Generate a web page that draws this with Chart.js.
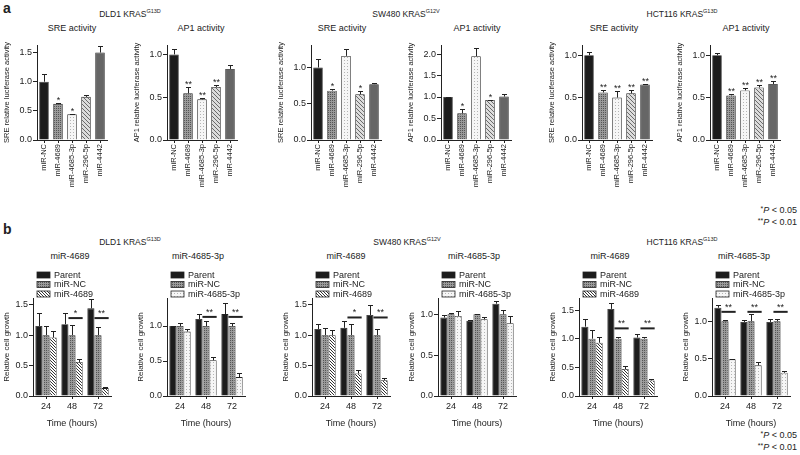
<!DOCTYPE html>
<html lang="en">
<head>
<meta charset="UTF-8">
<title>KRAS reporter activity and cell growth</title>
<script src="https://cdn.jsdelivr.net/npm/chart.js"></script>
<style>
  body { margin: 0; width: 800px; height: 455px; position: relative; background: #fff;
         font-family: 'Liberation Sans', Arial, sans-serif; color: #222; overflow: hidden; }
  .box { position: absolute; }
  .lbl { position: absolute; white-space: nowrap; transform: translate(-50%, -50%); font-size: 9px; }
  .grp { font-size: 8.5px; }
  .grp sup { font-size: 5.5px; vertical-align: 4px; }
  .panel { position: absolute; font-weight: bold; font-size: 14px; transform: translateY(-50%); }
  .pval { position: absolute; right: 3px; font-size: 9px; text-align: right; transform: translateY(-50%); white-space: nowrap; }
  .pval span { font-size: 7px; vertical-align: 2px; }
</style>
</head>
<body>
<div class="panel" style="left:3px;top:8px">a</div>
<div class="lbl grp" style="left:130px;top:13px">DLD1 KRAS<sup>G13D</sup></div>
<div class="lbl grp" style="left:406px;top:13px">SW480 KRAS<sup>G12V</sup></div>
<div class="lbl grp" style="left:682px;top:13px">HCT116 KRAS<sup>G13D</sup></div>
<div class="lbl" style="left:72px;top:28px">SRE activity</div>
<div class="lbl" style="left:201px;top:28px">AP1 activity</div>
<div class="lbl" style="left:342px;top:28px">SRE activity</div>
<div class="lbl" style="left:477px;top:28px">AP1 activity</div>
<div class="lbl" style="left:614px;top:28px">SRE activity</div>
<div class="lbl" style="left:746px;top:28px">AP1 activity</div>
<div class="pval" style="top:210px"><span>*</span><i>P</i> &lt; 0.05</div>
<div class="pval" style="top:222px"><span>**</span><i>P</i> &lt; 0.01</div>

<div class="panel" style="left:3px;top:229px">b</div>
<div class="lbl grp" style="left:130px;top:241px">DLD1 KRAS<sup>G13D</sup></div>
<div class="lbl grp" style="left:407px;top:241px">SW480 KRAS<sup>G12V</sup></div>
<div class="lbl grp" style="left:682px;top:241px">HCT116 KRAS<sup>G13D</sup></div>
<div class="lbl" style="left:70px;top:256px">miR-4689</div>
<div class="lbl" style="left:198px;top:256px">miR-4685-3p</div>
<div class="lbl" style="left:346px;top:256px">miR-4689</div>
<div class="lbl" style="left:474px;top:256px">miR-4685-3p</div>
<div class="lbl" style="left:610px;top:256px">miR-4689</div>
<div class="lbl" style="left:744px;top:256px">miR-4685-3p</div>
<div class="pval" style="top:435px"><span>*</span><i>P</i> &lt; 0.05</div>
<div class="pval" style="top:447px"><span>**</span><i>P</i> &lt; 0.01</div>

<script>
// ---- panel a: relative luciferase activity (mean, error) ----
const miRNAs = ['miR-NC', 'miR-4689', 'miR-4685-3p', 'miR-296-5p', 'miR-4442'];

const dld1SRE = [1.0, 0.62, 0.44, 0.74, 1.50];
const dld1SREErr = [0.14, 0.01, 0.01, 0.04, 0.11];
const dld1SREStars = ['', '*', '*', '', ''];
const dld1AP1 = [1.0, 0.545, 0.475, 0.62, 0.83];
const dld1AP1Err = [0.06, 0.07, 0.02, 0.02, 0.05];
const dld1AP1Stars = ['', '**', '**', '**', ''];

const sw480SRE = [1.0, 0.68, 1.16, 0.63, 0.77];
const sw480SREErr = [0.12, 0.02, 0.09, 0.04, 0.01];
const sw480SREStars = ['', '*', '', '*', ''];
const sw480AP1 = [1.0, 0.62, 1.95, 0.93, 1.01];
const sw480AP1Err = [0.01, 0.10, 0.20, 0.01, 0.05];
const sw480AP1Stars = ['', '*', '', '*', ''];

const hctSRE = [1.0, 0.56, 0.50, 0.55, 0.655];
const hctSREErr = [0.04, 0.03, 0.08, 0.04, 0.01];
const hctSREStars = ['', '**', '**', '**', '**'];
const hctAP1 = [1.0, 0.525, 0.585, 0.62, 0.66];
const hctAP1Err = [0.03, 0.02, 0.025, 0.03, 0.03];
const hctAP1Stars = ['', '**', '**', '**', '**'];

// ---- panel b: relative cell growth ----
const hours = ['24', '48', '72'];
const seriesNames = ['Parent', 'miR-NC'];

const dld1G4689Parent = [1.15, 1.18, 1.44];
const dld1G4689ParentErr = [0.22, 0.18, 0.15];
const dld1G4689NC = [1.0, 1.0, 1.0];
const dld1G4689NCErr = [0.15, 0.16, 0.13];
const dld1G4689Mir = [0.96, 0.56, 0.13];
const dld1G4689MirErr = [0.10, 0.04, 0.01];
const dld1G4689Sig = ['', '*', '**'];

const dld1G4685Parent = [1.0, 1.10, 1.17];
const dld1G4685ParentErr = [0.005, 0.07, 0.16];
const dld1G4685NC = [1.0, 1.0, 1.0];
const dld1G4685NCErr = [0.04, 0.07, 0.04];
const dld1G4685Mir = [0.92, 0.51, 0.27];
const dld1G4685MirErr = [0.04, 0.05, 0.06];
const dld1G4685Sig = ['', '**', '**'];

const sw480G4689Parent = [1.10, 1.12, 1.33];
const sw480G4689ParentErr = [0.09, 0.12, 0.16];
const sw480G4689NC = [1.0, 1.0, 1.0];
const sw480G4689NCErr = [0.12, 0.19, 0.10];
const sw480G4689Mir = [1.0, 0.37, 0.26];
const sw480G4689MirErr = [0.08, 0.05, 0.04];
const sw480G4689Sig = ['', '*', '**'];

const sw480G4685Parent = [0.96, 0.92, 1.13];
const sw480G4685ParentErr = [0.03, 0.005, 0.03];
const sw480G4685NC = [1.0, 1.0, 1.0];
const sw480G4685NCErr = [0.02, 0.01, 0.05];
const sw480G4685Mir = [0.98, 0.94, 0.89];
const sw480G4685MirErr = [0.06, 0.03, 0.09];
const sw480G4685Sig = ['', '', ''];

const hctG4689Parent = [1.21, 1.52, 1.02];
const hctG4689ParentErr = [0.14, 0.11, 0.07];
const hctG4689NC = [1.0, 1.0, 1.0];
const hctG4689NCErr = [0.16, 0.03, 0.03];
const hctG4689Mir = [0.93, 0.47, 0.27];
const hctG4689MirErr = [0.10, 0.05, 0.02];
const hctG4689Sig = ['', '**', '**'];

const hctG4685Parent = [1.18, 0.99, 0.99];
const hctG4685ParentErr = [0.04, 0.03, 0.04];
const hctG4685NC = [1.0, 1.0, 1.0];
const hctG4685NCErr = [0.01, 0.10, 0.03];
const hctG4685Mir = [0.49, 0.41, 0.31];
const hctG4685MirErr = [0.01, 0.05, 0.02];
const hctG4685Sig = ['**', '**', '**'];

const ticksTo1 = [0, 0.5, 1.0];
const ticksTo15 = [0, 0.5, 1.0, 1.5];
const ticksTo2 = [0, 0.5, 1.0, 1.5, 2.0];

const INK = '#222';

// small bitmap fills used for the hatched bars
function pattern(size, base, ink, dots) {
  const c = document.createElement('canvas');
  c.width = c.height = size;
  const g = c.getContext('2d');
  g.fillStyle = base;
  g.fillRect(0, 0, size, size);
  g.fillStyle = ink;
  dots.forEach(([x, y]) => g.fillRect(x, y, 1, 1));
  return g.createPattern(c, 'repeat');
}
const fillBlack = '#1c1c1c';
const fillCross = pattern(2, '#9a9a9a', '#555', [[0, 0]]);
const fillDots = pattern(3, '#f6f6f6', '#b4b4b4', [[1, 1]]);
const fillStripeGrey = pattern(4, '#dcdcdc', '#6a6a6a', [[0, 0], [1, 1], [2, 2], [3, 3]]);
const fillStripeDark = pattern(3, '#ffffff', '#333', [[0, 0], [1, 1], [2, 2]]);
const fillGrey = '#666';
const activityFills = [fillBlack, fillCross, fillDots, fillStripeGrey, fillGrey];

// upward error bars with a short cap
const errorBars = {
  id: 'errorBars',
  afterDatasetsDraw(chart) {
    const ctx = chart.ctx, y = chart.scales.y;
    chart.data.datasets.forEach((ds, i) => {
      if (!ds.errors) return;
      chart.getDatasetMeta(i).data.forEach((bar, j) => {
        const top = Math.round(y.getPixelForValue(ds.data[j] + ds.errors[j])) + 0.5;
        const x = Math.round(bar.x) + 0.5;
        ctx.save();
        ctx.strokeStyle = INK;
        ctx.lineWidth = 1;
        ctx.beginPath();
        ctx.moveTo(x, bar.y);
        ctx.lineTo(x, top);
        ctx.moveTo(x - 2.5, top);
        ctx.lineTo(x + 2.5, top);
        ctx.stroke();
        if (ds.stars && ds.stars[j]) {
          ctx.fillStyle = INK;
          ctx.font = '9px "Liberation Sans", Arial';
          ctx.textAlign = 'center';
          ctx.fillText(ds.stars[j], x, top - 1);
        }
        ctx.restore();
      });
    });
  }
};

// significance bar between miR-NC and the treated group
const sigBars = {
  id: 'sigBars',
  afterDatasetsDraw(chart, args, opts) {
    if (!opts.marks) return;
    const ctx = chart.ctx;
    const yPix = chart.scales.y.getPixelForValue(opts.level);
    const nc = chart.getDatasetMeta(1).data, mir = chart.getDatasetMeta(2).data;
    opts.marks.forEach((m, j) => {
      if (!m) return;
      const x0 = nc[j].x - nc[j].width / 2, x1 = mir[j].x + mir[j].width / 2;
      ctx.save();
      ctx.strokeStyle = INK;
      ctx.lineWidth = 2;
      ctx.beginPath();
      ctx.moveTo(x0, yPix);
      ctx.lineTo(x1, yPix);
      ctx.stroke();
      ctx.fillStyle = INK;
      ctx.font = '9px "Liberation Sans", Arial';
      ctx.textAlign = 'center';
      ctx.fillText(m, (x0 + x1) / 2, yPix - 2);
      ctx.restore();
    });
  }
};

// stacked legend above the plot area
const stackLegend = {
  id: 'stackLegend',
  afterDraw(chart) {
    const ctx = chart.ctx, a = chart.chartArea;
    chart.data.datasets.forEach((ds, i) => {
      const y = a.top - 26 + i * 9.5;
      ctx.save();
      ctx.fillStyle = ds.backgroundColor;
      ctx.fillRect(a.left + 4, y, 13, 6);
      ctx.strokeStyle = INK;
      ctx.lineWidth = 0.8;
      ctx.strokeRect(a.left + 4, y, 13, 6);
      ctx.fillStyle = INK;
      ctx.font = '9px "Liberation Sans", Arial';
      ctx.textBaseline = 'middle';
      ctx.fillText(ds.label, a.left + 21, y + 3.5);
      ctx.restore();
    });
  }
};

function makeCanvas(left, top, w, h) {
  const div = document.createElement('div');
  div.className = 'box';
  div.style.cssText = `left:${left}px;top:${top}px;width:${w}px;height:${h}px`;
  const c = document.createElement('canvas');
  c.width = w;
  c.height = h;
  div.appendChild(c);
  document.body.appendChild(div);
  return c;
}

function yAxis(yMax, yTicks, title, width, titleSize) {
  return {
    min: 0, max: yMax,
    afterBuildTicks: s => { s.ticks = yTicks.map(v => ({ value: v })); },
    afterFit: s => { s.width = width; },
    grid: { drawOnChartArea: false, tickLength: 4, color: INK },
    border: { color: INK, width: 1 },
    ticks: { color: INK, padding: 1, font: { size: 9 }, callback: v => v.toFixed(1) },
    title: { display: true, text: title, color: INK, font: { size: titleSize }, padding: { top: 2, bottom: 0 } }
  };
}

function activityChart(axisX, yTitle, values, errors, stars, yMax, yTicks) {
  const canvas = makeCanvas(axisX - 37, 38, 116, 162);
  new Chart(canvas, {
    type: 'bar',
    data: {
      labels: miRNAs,
      datasets: [{
        data: values, errors: errors, stars: stars,
        backgroundColor: activityFills, borderColor: INK, borderWidth: 0.8,
        barPercentage: 0.68, categoryPercentage: 1
      }]
    },
    options: {
      responsive: false, animation: false,
      layout: { padding: { top: 7, right: 9, left: 0, bottom: 0 } },
      plugins: { legend: { display: false }, tooltip: { enabled: false } },
      scales: {
        x: {
          afterFit: s => { s.height = 60; },
          grid: { drawOnChartArea: false, offset: false, tickLength: 3, color: INK },
          border: { color: INK, width: 1 },
          ticks: { color: INK, autoSkip: false, minRotation: 90, maxRotation: 90, padding: 1, font: { size: 7.5 } }
        },
        y: yAxis(yMax, yTicks, yTitle, 37, 7.5)
      }
    },
    plugins: [errorBars]
  });
}

function growthChart(axisX, yMax, yTicks, parent, parentErr, nc, ncErr, mir, mirErr, mirLabel, mirFill, sigLevel, sigMarks) {
  const canvas = makeCanvas(axisX - 33, 262, 118, 167);
  new Chart(canvas, {
    type: 'bar',
    data: {
      labels: hours,
      datasets: [
        { label: seriesNames[0], data: parent, errors: parentErr, backgroundColor: fillBlack },
        { label: seriesNames[1], data: nc, errors: ncErr, backgroundColor: fillCross },
        { label: mirLabel, data: mir, errors: mirErr, backgroundColor: mirFill }
      ].map(d => Object.assign(d, { borderColor: INK, borderWidth: 0.8, barPercentage: 1, categoryPercentage: 0.82 }))
    },
    options: {
      responsive: false, animation: false,
      layout: { padding: { top: 36, right: 7, left: 0, bottom: 0 } },
      plugins: {
        legend: { display: false }, tooltip: { enabled: false },
        sigBars: { level: sigLevel, marks: sigMarks }
      },
      scales: {
        x: {
          afterFit: s => { s.height = 33; },
          grid: { drawOnChartArea: false, offset: false, tickLength: 3, color: INK },
          border: { color: INK, width: 1 },
          ticks: { color: INK, padding: 2, font: { size: 9 } },
          title: { display: true, text: 'Time (hours)', color: INK, font: { size: 9 }, padding: { top: 0, bottom: 0 } }
        },
        y: yAxis(yMax, yTicks, 'Relative cell growth', 33, 8)
      }
    },
    plugins: [errorBars, sigBars, stackLegend]
  });
}

// panel a
activityChart(37, 'SRE relative luciferase activity', dld1SRE, dld1SREErr, dld1SREStars, 1.63, ticksTo15);
activityChart(167, 'AP1 relative luciferase activity', dld1AP1, dld1AP1Err, dld1AP1Stars, 1.11, ticksTo1);
activityChart(311, 'SRE relative luciferase activity', sw480SRE, sw480SREErr, sw480SREStars, 1.31, ticksTo1);
activityChart(441, 'AP1 relative luciferase activity', sw480AP1, sw480AP1Err, sw480AP1Stars, 2.21, ticksTo2);
activityChart(582, 'SRE relative luciferase activity', hctSRE, hctSREErr, hctSREStars, 1.12, ticksTo1);
activityChart(710, 'AP1 relative luciferase activity', hctAP1, hctAP1Err, hctAP1Stars, 1.12, ticksTo1);

// panel b
growthChart(33, 1.61, ticksTo15, dld1G4689Parent, dld1G4689ParentErr, dld1G4689NC, dld1G4689NCErr,
  dld1G4689Mir, dld1G4689MirErr, 'miR-4689', fillStripeDark, 1.28, dld1G4689Sig);
growthChart(167, 1.40, ticksTo1, dld1G4685Parent, dld1G4685ParentErr, dld1G4685NC, dld1G4685NCErr,
  dld1G4685Mir, dld1G4685MirErr, 'miR-4685-3p', fillDots, 1.13, dld1G4685Sig);
growthChart(312, 1.61, ticksTo15, sw480G4689Parent, sw480G4689ParentErr, sw480G4689NC, sw480G4689NCErr,
  sw480G4689Mir, sw480G4689MirErr, 'miR-4689', fillStripeDark, 1.29, sw480G4689Sig);
growthChart(438, 1.20, ticksTo1, sw480G4685Parent, sw480G4685ParentErr, sw480G4685NC, sw480G4685NCErr,
  sw480G4685Mir, sw480G4685MirErr, 'miR-4685-3p', fillDots, 1.2, sw480G4685Sig);
growthChart(579, 1.71, ticksTo15, hctG4689Parent, hctG4689ParentErr, hctG4689NC, hctG4689NCErr,
  hctG4689Mir, hctG4689MirErr, 'miR-4689', fillStripeDark, 1.18, hctG4689Sig);
growthChart(712, 1.31, ticksTo1, hctG4685Parent, hctG4685ParentErr, hctG4685NC, hctG4685NCErr,
  hctG4685Mir, hctG4685MirErr, 'miR-4685-3p', fillDots, 1.125, hctG4685Sig);
</script>
</body>
</html>
